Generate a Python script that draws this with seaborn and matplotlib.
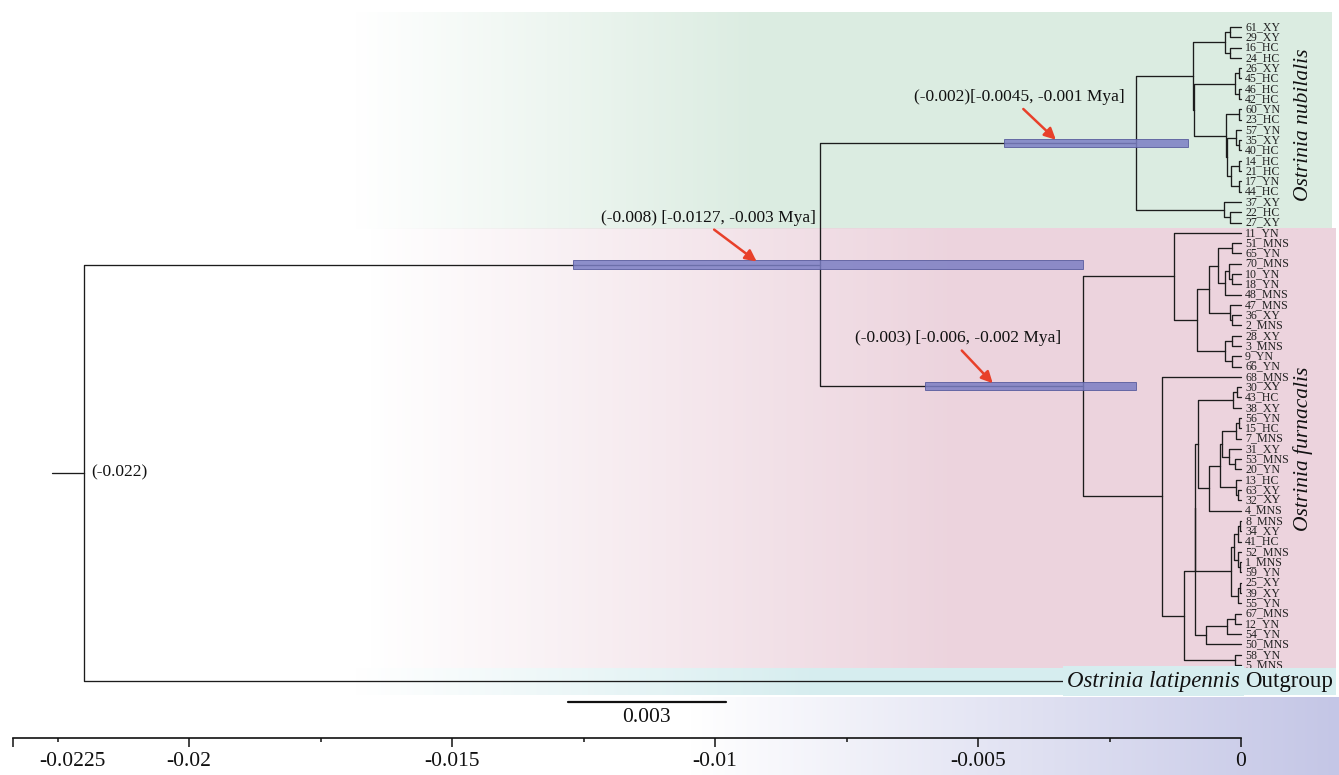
import numpy as np
import pandas as pd
import matplotlib
matplotlib.use("Agg")
import matplotlib.pyplot as plt
import seaborn as sns

# ---------------------------------------------------------------------------
# Tree data (Newick; internal labels are node ages, tips sit at age 0)
# ---------------------------------------------------------------------------
NUB_A = "((61_XY,29_XY)-0.00021,(16_HC,24_HC)-0.00021)-0.00030"
NUB_B = "((26_XY,45_HC)-0.00004,(46_HC,42_HC)-0.00004)-0.00011"
NUB_C = ("((60_YN,23_HC)-0.00004,((57_YN,(35_XY,40_HC)-0.00004)-0.00010,"
         "((14_HC,21_HC)-0.00004,(17_YN,44_HC)-0.00004)-0.00019)-0.00027)-0.00029")
NUB_D = "(37_XY,(22_HC,27_XY)-0.00021)-0.00032"
NUBILALIS = f"(({NUB_A},({NUB_B},{NUB_C})-0.00089)-0.00091,{NUB_D})"

FUR_A = ("(11_YN,((((51_MNS,65_YN)-0.00017,((70_MNS,(10_YN,18_YN)-0.00017)-0.00023,"
         "48_MNS)-0.00030)-0.00044,(47_MNS,(36_XY,2_MNS)-0.00017)-0.00021)-0.00061,"
         "((28_XY,3_MNS)-0.00017,(9_YN,66_YN)-0.00017)-0.00030)-0.00084)-0.00127")
FUR_B = ("(((30_XY,43_HC)-0.00008,38_XY)-0.00015,(((((56_YN,15_HC)-0.00004,7_MNS)-0.00010,"
         "(31_XY,(53_MNS,20_YN)-0.00011)-0.00023)-0.00036,"
         "(13_HC,(63_XY,32_XY)-0.00006)-0.00010)-0.00040,4_MNS)-0.00061)-0.00082")
FUR_C = ("((((8_MNS,34_XY)-0.00002,41_HC)-0.00006,(52_MNS,(1_MNS,59_YN)-0.00002)-0.00006)-0.00013,"
         "((25_XY,39_XY)-0.00002,55_YN)-0.00006)-0.00019")
FUR_D = "(((67_MNS,12_YN)-0.00011,54_YN)-0.00027,50_MNS)-0.00067"
FURNACALIS = (f"({FUR_A},(68_MNS,((({FUR_B},{FUR_C})-0.00087,{FUR_D})-0.00088,"
              f"(58_YN,5_MNS)-0.00011)-0.00108)-0.00150)")

OUTGROUP = "Ostrinia latipennis"

# dated nodes and their 95% HPD intervals
ROOT_AGE = -0.022
INGROUP_AGE = -0.008
NUB_AGE = -0.002
FUR_AGE = -0.003
INGROUP_HPD = (-0.0127, -0.003)
NUB_HPD = (-0.0045, -0.001)
FUR_HPD = (-0.006, -0.002)
ROOT_STEM = 0.0006

# time axis
AXIS_START = -0.02335
MAJOR_TICKS = [-0.02, -0.015, -0.01, -0.005, 0.0]
MINOR_TICKS = [-0.0225, -0.0175, -0.0125, -0.0075, -0.0025]
SCALE_BAR = 0.003

# tip labels drawn with an enlarged population code
BIG_SUFFIX = ["30_XY", "32_XY"]

TREE = (f"(({NUBILALIS}{NUB_AGE},{FURNACALIS}{FUR_AGE}){INGROUP_AGE},"
        f"{OUTGROUP}){ROOT_AGE}")


# ---------------------------------------------------------------------------
def parse_newick(s):
    pos = 0

    def label():
        nonlocal pos
        start = pos
        while pos < len(s) and s[pos] not in ",()":
            pos += 1
        return s[start:pos]

    def node():
        nonlocal pos
        if s[pos] == "(":
            pos += 1
            kids = [node()]
            while s[pos] == ",":
                pos += 1
                kids.append(node())
            pos += 1
            return {"kids": kids, "age": float(label())}
        return {"name": label(), "age": 0.0}

    return node()


tree = parse_newick(TREE)
tips = []
OUTGROUP_GAP = 0.56


def layout(n):
    if "kids" not in n:
        n["y"] = len(tips) + (OUTGROUP_GAP if n["name"] == OUTGROUP else 0.0)
        tips.append(n)
        return
    for k in n["kids"]:
        layout(k)
    n["y"] = (n["kids"][0]["y"] + n["kids"][-1]["y"]) / 2


layout(tree)

rows = []


def collect(n):
    if "kids" not in n:
        return
    for k in n["kids"]:
        sid = len(rows)
        rows.extend([(sid, n["age"], n["y"]), (sid, n["age"], k["y"]),
                     (sid, k["age"], k["y"])])
        collect(k)


collect(tree)
rows.extend([(-1, tree["age"] - ROOT_STEM, tree["y"]), (-1, tree["age"], tree["y"])])
seg_df = pd.DataFrame(rows, columns=["seg", "x", "y"])

ingroup = tree["kids"][0]
nub_node, fur_node = ingroup["kids"]

# ---------------------------------------------------------------------------
sns.set_theme(style="white")
plt.rcParams["font.family"] = ["Liberation Serif", "DejaVu Serif"]
plt.rcParams["axes.unicode_minus"] = False

W, H = 1339, 775
PX_PER_UNIT = 52600.0
ZERO_PX = 1241.0
TIP0_PX, TIP_STEP = 27.0, 10.29
XLIM = (-ZERO_PX / PX_PER_UNIT, (W - ZERO_PX) / PX_PER_UNIT)
YLIM = ((H - TIP0_PX) / TIP_STEP, -TIP0_PX / TIP_STEP)

fig = plt.figure(figsize=(W / 100, H / 100), dpi=100)

# soft colour washes behind the clades
canvas = np.ones((H, W, 3))
cols = np.arange(W)


def wash(x0, x1, y0, y1, x_end, rgb):
    a = np.clip((cols - x0) / (x1 - x0), 0, 1)
    a[cols > x_end] = 0
    c = np.array(rgb) / 255.0
    canvas[y0:y1] = canvas[y0:y1] * (1 - a[None, :, None]) + c * a[None, :, None]


wash(355, 760, 12, 229, 1331, (219, 236, 225))
wash(370, 960, 228, 668, 1335, (236, 211, 221))
wash(355, 820, 668, 695, 1335, (214, 237, 239))
wash(690, 1339, 697, 775, 1339, (196, 198, 230))

bg = fig.add_axes([0, 0, 1, 1], zorder=0)
bg.imshow(canvas, extent=(0, W, H, 0), aspect="auto", interpolation="bilinear")
bg.set_axis_off()

ax = fig.add_axes([0, 0, 1, 1], zorder=1)
ax.set_facecolor("none")
sns.lineplot(data=seg_df, x="x", y="y", units="seg", estimator=None, sort=False,
             color="#1c1c1c", linewidth=0.95, ax=ax, zorder=2)
ax.set_xlim(*XLIM)
ax.set_ylim(*YLIM)
ax.set_axis_off()

# tip labels
PT = 72.0 / 100.0
TIP_FS = 8.6
for t in tips:
    name = t["name"]
    if name == OUTGROUP:
        continue
    if name in BIG_SUFFIX:
        pre, suf = name.split("_")
        tx = ax.annotate(pre + "_", xy=(0, t["y"]), xytext=(4 * PT, 0),
                         textcoords="offset points", ha="left", va="center",
                         fontsize=TIP_FS, color="#222222")
        ax.annotate(suf, xy=(1, 0.5), xycoords=tx, ha="left", va="center",
                    fontsize=9.3, color="#222222")
    else:
        ax.annotate(name, xy=(0, t["y"]), xytext=(4 * PT, 0),
                    textcoords="offset points", ha="left", va="center",
                    fontsize=TIP_FS, color="#222222")

# HPD bars with arrowed annotations
BAR_FILL, BAR_EDGE, ARROW_RED = "#7b7ec4", "#565a9c", "#e8402a"
annots = [
    (ingroup, INGROUP_AGE, INGROUP_HPD, " ", 0.36, (-48, 44)),
    (nub_node, NUB_AGE, NUB_HPD, "", 0.28, (-37, 43)),
    (fur_node, FUR_AGE, FUR_HPD, " ", 0.32, (-35, 45)),
]
for node, age, (lo, hi), sep, frac, (dx, dy) in annots:
    ax.barh(node["y"], hi - lo, left=lo, height=0.8, color=BAR_FILL, alpha=0.85,
            edgecolor=BAR_EDGE, linewidth=0.7, zorder=3)
    ax.annotate(f"({age:g}){sep}[{lo:g}, {hi:g} Mya]",
                xy=(lo + frac * (hi - lo), node["y"] - 0.3),
                xytext=(dx * PT, dy * PT), textcoords="offset points",
                ha="center", va="center", fontsize=12.5, color="#111111", zorder=5,
                arrowprops=dict(arrowstyle="-|>", color=ARROW_RED, lw=1.8,
                                mutation_scale=17, shrinkA=1, shrinkB=0,
                                relpos=(0.5, 0.0)))

# root age
ax.annotate(f"({ROOT_AGE:g})", xy=(tree["age"], tree["y"]), xytext=(7 * PT, 0),
            textcoords="offset points", ha="left", va="center", fontsize=12.5,
            color="#111111")

# clade names
nub_tips = [t["y"] for t in tips[:20]]
fur_tips = [t["y"] for t in tips[20:-1]]
for label, ys in (("Ostrinia nubilalis", nub_tips), ("Ostrinia furnacalis", fur_tips)):
    ax.annotate(label, xy=(0, np.mean(ys)), xytext=(62 * PT, 0),
                textcoords="offset points", rotation=90, ha="center", va="center",
                fontsize=15.5, style="italic", color="#111111")

# outgroup name over its band
og = tips[-1]
CYAN = "#d6edef"
t_out = ax.annotate("Outgroup", xy=(0, og["y"]), xytext=(92 * PT, 0),
                    textcoords="offset points", ha="right", va="center",
                    fontsize=16.5, color="#111111", zorder=6,
                    bbox=dict(fc=CYAN, ec="none", pad=1.5))
ax.annotate(OUTGROUP, xy=(0, 0.5), xycoords=t_out, xytext=(-4, 0),
            textcoords="offset points", ha="right", va="center",
            fontsize=16.5, style="italic", color="#111111", zorder=6,
            bbox=dict(fc=CYAN, ec="none", pad=3))

# scale bar
SB_LEFT, SB_Y = -0.0128, og["y"] + 2.0
ax.plot([SB_LEFT, SB_LEFT + SCALE_BAR], [SB_Y, SB_Y], color="#111111", lw=1.6)
ax.annotate(f"{SCALE_BAR:g}", xy=(SB_LEFT + SCALE_BAR / 2, SB_Y), xytext=(0, -11.5),
            textcoords="offset points", ha="center", va="center", fontsize=15.5,
            color="#111111")

# time axis
sax = fig.add_axes([0, 37 / H, 1, 0.01], zorder=2)
sax.set_facecolor("none")
sax.set_xlim(*XLIM)
sax.set_yticks([])
for side in ("left", "right", "top"):
    sax.spines[side].set_visible(False)
sax.spines["bottom"].set_bounds(AXIS_START, 0.0)
sax.spines["bottom"].set_linewidth(1.2)
sax.spines["bottom"].set_color("#111111")
sax.set_xticks(MAJOR_TICKS + [AXIS_START])
sax.set_xticklabels([f"{v:g}" for v in MAJOR_TICKS] + [""])
sax.set_xticks(MINOR_TICKS, minor=True)
sax.tick_params(axis="x", which="both", bottom=True, direction="out",
                width=1.1, color="#111111")
sax.tick_params(axis="x", which="major", length=6.5, pad=3.5, labelsize=15.5,
                labelcolor="#111111")
sax.tick_params(axis="x", which="minor", length=3)
sax.annotate(f"{MINOR_TICKS[0]:g}", xy=(MINOR_TICKS[0], 0),
             xycoords=("data", "axes fraction"), xytext=(11, -10),
             textcoords="offset points", ha="center", va="top", fontsize=15.5,
             color="#111111")

fig.savefig("out.png", dpi=100)
